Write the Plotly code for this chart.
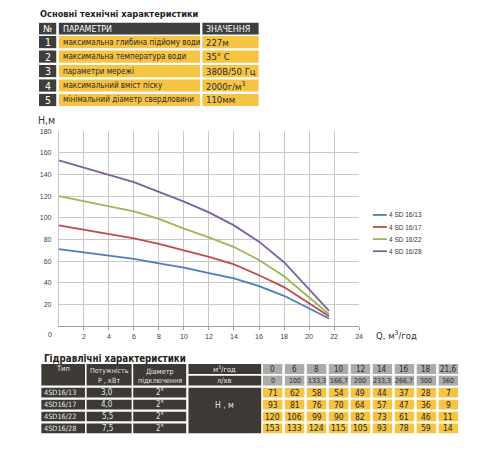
import plotly.graph_objects as go

# ---------------- data ----------------
FLOW_M3H = [0, 6, 8, 10, 12, 14, 16, 18, 21.6]
FLOW_M3H_LABELS = ["0", "6", "8", "10", "12", "14", "16", "18", "21,6"]
FLOW_LMIN_LABELS = ["0", "100", "133,3", "166,7", "200", "233,3", "266,7", "300", "360"]

MODELS = ["4SD16/13", "4SD16/17", "4SD16/22", "4SD16/28"]
LEGEND_NAMES = ["4 SD 16/13", "4 SD 16/17", "4 SD 16/22", "4 SD 16/28"]
POWER_KW = ["3,0", "4,0", "5,5", "7,5"]
OUTLET = ['2"', '2"', '2"', '2"']

HEAD_4SD16_13 = [71, 62, 58, 54, 49, 44, 37, 28, 7]
HEAD_4SD16_17 = [93, 81, 76, 70, 64, 57, 47, 36, 9]
HEAD_4SD16_22 = [120, 106, 99, 90, 82, 73, 61, 46, 11]
HEAD_4SD16_28 = [153, 133, 124, 115, 105, 93, 78, 59, 14]
HEADS = [HEAD_4SD16_13, HEAD_4SD16_17, HEAD_4SD16_22, HEAD_4SD16_28]
SERIES_COLORS = ["#4A7EBB", "#BE4B48", "#98B954", "#7D60A0"]

X_TICKS = [2, 4, 6, 8, 10, 12, 14, 16, 18, 20, 22, 24]
Y_TICKS = [20, 40, 60, 80, 100, 120, 140, 160, 180]

SPEC_NUMS = ["1", "2", "3", "4", "5"]
SPEC_NAMES = [
    "максимальна глибина підйому води",
    "максимальна температура води",
    "параметри мережі",
    "максимальний вміст піску",
    "мінімальний діаметр свердловини",
]
SPEC_VALUES = ["227м", "35° С", "380В/50 Гц", "2000г/м<sup>3</sup>", "110мм"]

# ---------------- style ----------------
W, H = 500, 450
COND = "DejaVu Sans Condensed, Liberation Sans Narrow, Arial Narrow, sans-serif"
SMALL = "Liberation Sans, Arial, sans-serif"
DARK = "#3E3E3E"
DARK2 = "#3D3935"
YELLOW = "#F6C343"
GRAY = "#ABABAB"
TXT = "#2B2B2B"


def X(px):
    return px / W


def Y(py):
    return 1 - py / H


shapes = []
annotations = []


def rect(x0, y0, x1, y1, color):
    shapes.append(dict(type="rect", xref="paper", yref="paper",
                       x0=X(x0), x1=X(x1), y0=Y(y1), y1=Y(y0),
                       fillcolor=color, line=dict(width=0), layer="above"))


def text(x, y, s, size, color, anchor="center", family=COND, bold=False):
    annotations.append(dict(xref="paper", yref="paper", x=X(x), y=Y(y),
                            text=("<b>%s</b>" % s) if bold else s,
                            showarrow=False, xanchor=anchor, yanchor="middle",
                            font=dict(size=size, color=color, family=family),
                            borderpad=0))


fig = go.Figure()

# ---------------- chart ----------------
for name, head, col in zip(LEGEND_NAMES, HEADS, SERIES_COLORS):
    fig.add_trace(go.Scatter(x=FLOW_M3H, y=head, mode="lines", name=name,
                             line=dict(color=col, width=1.8), showlegend=False))

fig.update_layout(
    xaxis=dict(domain=[X(59.3), X(362)], range=[0, 24], tickvals=X_TICKS,
               showgrid=True, gridcolor="#C8C8C8", gridwidth=1,
               showline=True, linecolor="#9E9E9E", linewidth=1,
               ticks="outside", ticklen=3, tickcolor="#9E9E9E",
               tickfont=dict(size=7, color="#404040", family=SMALL),
               zeroline=False, fixedrange=True),
    yaxis=dict(domain=[Y(325), Y(128.3)], range=[0, 180], tickvals=Y_TICKS,
               showgrid=True, gridcolor="#C8C8C8", gridwidth=1,
               showline=True, linecolor="#C8C8C8", linewidth=1,
               ticks="", ticklabelstandoff=5,
               tickfont=dict(size=7, color="#404040", family=SMALL),
               zeroline=False, fixedrange=True),
)

text(50, 333, "0", 7, "#404040", family=SMALL)
text(37, 117.5, "H,м", 10.5, "#333333", anchor="left")
text(378, 333.5, "Q, м<sup>3</sup>/год", 9.5, "#333333", anchor="left")

# legend
for i, (name, col) in enumerate(zip(LEGEND_NAMES, SERIES_COLORS)):
    yy = 212.8 + i * 12.2
    shapes.append(dict(type="line", xref="paper", yref="paper",
                       x0=X(376), x1=X(390), y0=Y(yy), y1=Y(yy),
                       line=dict(color=col, width=1.8)))
    text(391.5, yy, name, 6.5, "#333333", anchor="left", family=SMALL)

# ---------------- top table ----------------
text(39, 9.5, "Основні технічні характеристики", 9.2, "#222222", anchor="left", bold=True)
cols = [(39.3, 56.7), (59.3, 201.7), (204, 260.7)]
rect(cols[0][0], 19, cols[0][1], 30.7, DARK)
rect(cols[1][0], 19, cols[1][1], 30.7, DARK)
rect(cols[2][0], 19, cols[2][1], 30.7, DARK)
text((cols[0][0] + cols[0][1]) / 2, 25, "№", 9.5, "white")
text(62, 25, "ПАРАМЕТРИ", 8.8, "white", anchor="left")
text(206.5, 25, "ЗНАЧЕННЯ", 8.8, "white", anchor="left")
for i, (n, nm, v) in enumerate(zip(SPEC_NUMS, SPEC_NAMES, SPEC_VALUES)):
    y0 = 32.3 + i * 14.6
    y1 = y0 + 12.3
    ym = (y0 + y1) / 2
    rect(cols[0][0], y0, cols[0][1], y1, DARK)
    rect(cols[1][0], y0, cols[1][1], y1, YELLOW)
    rect(cols[2][0], y0, cols[2][1], y1, YELLOW)
    text((cols[0][0] + cols[0][1]) / 2, ym, n, 10.5, "white")
    text(62.5, ym, nm, 8.0, TXT, anchor="left")
    text(207, ym, v, 9.5, TXT, anchor="left")

# ---------------- bottom table ----------------
text(43, 357.5, "Гідравлічні характеристики", 9.7, "#222222", anchor="left", bold=True)
LCOL = [(41.7, 85.7), (87.3, 132.7), (134.3, 187.7)]
UNITC = (190, 263.3)
HR1 = (363.3, 373.3)
HR2 = (375, 385)
ROW_Y0 = 387.3
ROW_P = 12
ROW_H = 9.8

rect(LCOL[0][0], HR1[0], LCOL[0][1], HR2[1], DARK2)
rect(LCOL[1][0], HR1[0], LCOL[1][1], HR2[1], DARK2)
rect(LCOL[2][0], HR1[0], LCOL[2][1], HR2[1], DARK2)
rect(UNITC[0], HR1[0], UNITC[1], HR1[1], DARK2)
rect(UNITC[0], HR2[0], UNITC[1], HR2[1], DARK2)
hc = "#E6E6E6"
text(sum(LCOL[0]) / 2, 367.5, "Тип", 7.5, hc)
text(sum(LCOL[1]) / 2, 370, "Потужність", 7.0, hc)
text(sum(LCOL[1]) / 2, 379.5, "P , кВт", 7.2, hc)
text(sum(LCOL[2]) / 2, 370.5, "Діаметр", 7.2, hc)
text(sum(LCOL[2]) / 2, 379.5, "підключення", 7.2, hc)
text(sum(UNITC) / 2, 368.5, "м<sup>3</sup>/год", 7.5, hc)
text(sum(UNITC) / 2, 380, "л/хв", 7.5, hc)
rect(UNITC[0], ROW_Y0, UNITC[1], ROW_Y0 + 3 * ROW_P + ROW_H, DARK2)
text(sum(UNITC) / 2, 404.5, "Н , м", 8.5, hc)

for i, (m, p, d) in enumerate(zip(MODELS, POWER_KW, OUTLET)):
    y0 = ROW_Y0 + i * ROW_P
    y1 = y0 + ROW_H
    ym = (y0 + y1) / 2
    for c in LCOL:
        rect(c[0], y0, c[1], y1, DARK2)
    text(43.5, ym, m, 7.3, hc, anchor="left")
    text(sum(LCOL[1]) / 2 - 2, ym, p, 8, hc)
    text(sum(LCOL[2]) / 2, ym, d, 8, hc)

DX0 = 265
DP = 22.15
DW = 19.6
for j in range(len(FLOW_M3H)):
    x0 = DX0 + j * DP
    x1 = x0 + DW
    xm = (x0 + x1) / 2
    rect(x0, HR1[0], x1, HR1[1], GRAY)
    rect(x0, HR2[0], x1, HR2[1], GRAY)
    text(xm, sum(HR1) / 2, FLOW_M3H_LABELS[j], 8, TXT)
    text(xm, sum(HR2) / 2, FLOW_LMIN_LABELS[j], 7.0, TXT)
    for i, head in enumerate(HEADS):
        y0 = ROW_Y0 + i * ROW_P
        y1 = y0 + ROW_H
        rect(x0, y0, x1, y1, YELLOW)
        text(xm, (y0 + y1) / 2, str(head[j]), 8.5, TXT)

fig.update_layout(
    width=W, height=H, margin=dict(l=0, r=0, t=0, b=0),
    paper_bgcolor="white", plot_bgcolor="white",
    shapes=shapes, annotations=annotations, showlegend=False,
)

fig.write_html("out.html")
